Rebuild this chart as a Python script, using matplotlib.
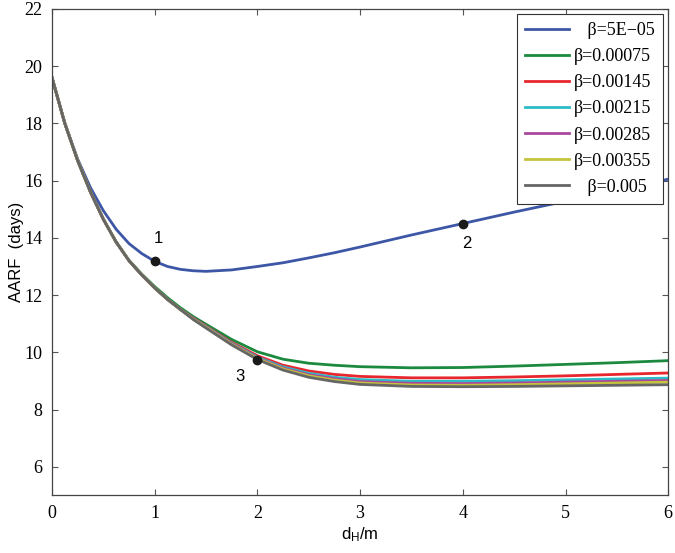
import numpy as np
import matplotlib
matplotlib.use("Agg")
import matplotlib.pyplot as plt

# distance d_H (m)
x = [0, 0.125, 0.25, 0.375, 0.5, 0.625, 0.75, 0.875, 1, 1.125, 1.25, 1.375, 1.5,
     1.75, 2, 2.25, 2.5, 2.75, 3, 3.5, 4, 4.5, 5, 5.5, 6]

# AARF (days) for each beta
aarf_5e05 = [19.6, 18.0, 16.75, 15.75, 14.95, 14.3, 13.8, 13.45, 13.18, 13.0, 12.9, 12.85, 12.83,
             12.88, 13.0, 13.13, 13.3, 13.48, 13.68, 14.1, 14.5, 14.9, 15.28, 15.65, 16.05]
aarf_00075 = [19.6, 18.0, 16.7, 15.6, 14.65, 13.86, 13.22, 12.73, 12.3, 11.91, 11.56, 11.25, 10.98,
              10.45, 10.02, 9.76, 9.62, 9.55, 9.5, 9.46, 9.47, 9.52, 9.58, 9.64, 9.71]
aarf_00145 = [19.6, 18.0, 16.7, 15.6, 14.65, 13.85, 13.2, 12.7, 12.25, 11.85, 11.5, 11.2, 10.92,
              10.35, 9.88, 9.55, 9.35, 9.23, 9.16, 9.11, 9.11, 9.14, 9.18, 9.23, 9.28]
aarf_00215 = [19.6, 18.0, 16.7, 15.6, 14.65, 13.85, 13.2, 12.7, 12.25, 11.85, 11.5, 11.18, 10.9,
              10.32, 9.83, 9.49, 9.27, 9.13, 9.05, 8.99, 8.99, 9.01, 9.04, 9.07, 9.1]
aarf_00285 = [19.6, 18.0, 16.7, 15.6, 14.65, 13.85, 13.2, 12.7, 12.25, 11.85, 11.5, 11.17, 10.88,
              10.3, 9.8, 9.45, 9.22, 9.08, 8.98, 8.92, 8.91, 8.93, 8.96, 8.99, 9.02]
aarf_00355 = [19.6, 18.0, 16.7, 15.6, 14.65, 13.85, 13.2, 12.7, 12.25, 11.85, 11.5, 11.16, 10.87,
              10.28, 9.78, 9.42, 9.18, 9.03, 8.93, 8.86, 8.85, 8.87, 8.9, 8.93, 8.96]
aarf_005 = [19.6, 18.0, 16.7, 15.6, 14.65, 13.85, 13.2, 12.7, 12.25, 11.85, 11.5, 11.15, 10.85,
            10.26, 9.75, 9.38, 9.13, 8.98, 8.88, 8.81, 8.8, 8.81, 8.83, 8.85, 8.87]

labels = ["   \u03b2=5E\u221205", "\u03b2=0.00075", "\u03b2=0.00145", "\u03b2=0.00215",
          "\u03b2=0.00285", "\u03b2=0.00355", "   \u03b2=0.005"]
colors = ["#3d56a6", "#1b8a3e", "#e8262e", "#2bbcc6", "#a9479c", "#c4c33c", "#666666"]

# marked points
pt_x = [1, 4, 2]
pt_y = [13.18, 14.5, 9.75]
pt_lab = ["1", "2", "3"]
lab_x = [1.04, 4.04, 1.83]
lab_y = [13.7, 13.55, 8.9]

fig = plt.figure(figsize=(6.75, 5.53), dpi=100)
ax = fig.add_axes([0.077, 0.104, 0.913, 0.88])

series = [aarf_5e05, aarf_00075, aarf_00145, aarf_00215, aarf_00285, aarf_00355, aarf_005]
for y, c, l in zip(series, colors, labels):
    ax.plot(x, y, color=c, linewidth=2.0, label=l, solid_joinstyle='round')

ax.plot(pt_x, pt_y, 'o', color='#1a1a1a', markersize=6, zorder=5)
for tx, ty, t in zip(lab_x, lab_y, pt_lab):
    ax.text(tx, ty, t, fontsize=12, family='Liberation Sans', ha='center', va='bottom')

ax.set_xlim(0, 6)
ax.set_ylim(5, 22)
ax.set_xticks(range(0, 7))
ax.set_yticks(range(6, 23, 2))
ax.tick_params(direction='in', top=True, right=True, length=4, width=0.8, color='#555555',
               labelsize=13, pad=7)
for lab in ax.get_xticklabels() + ax.get_yticklabels():
    lab.set_family('Liberation Serif')
for s in ax.spines.values():
    s.set_color('#444444')
    s.set_linewidth(0.9)

ax.set_xlabel('$\\mathregular{d_H}$/m', fontsize=12, family='Liberation Sans', labelpad=2)
ax.set_ylabel('AARF  (days)', fontsize=12, family='Liberation Sans', labelpad=0)

leg = ax.legend(loc='upper right', prop={'family': 'Liberation Serif', 'size': 13},
                fancybox=False, framealpha=1, edgecolor='#333333', handlelength=2.4,
                handletextpad=0.3, borderpad=0.45, labelspacing=0.5, borderaxespad=0.3)
leg.get_frame().set_linewidth(0.8)

fig.savefig('out.png', dpi=100)
